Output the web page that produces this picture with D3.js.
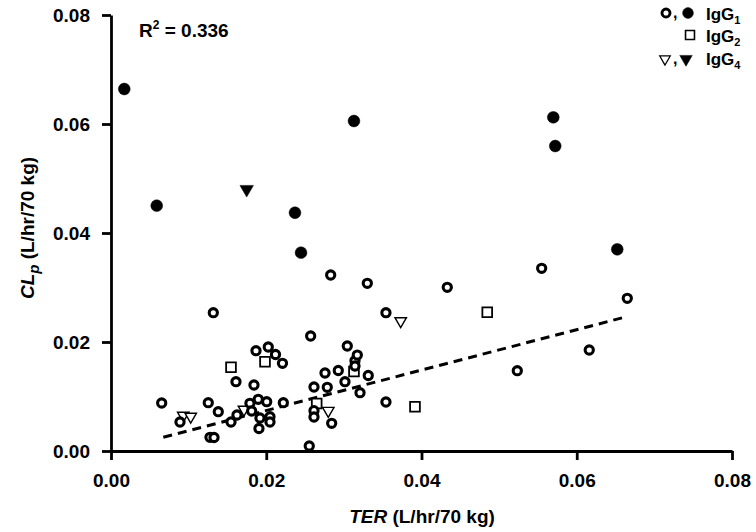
<!DOCTYPE html>
<html><head><meta charset="utf-8">
<script src="https://cdn.jsdelivr.net/npm/d3@7"></script>
<style>
html,body{margin:0;padding:0;background:#fff;}
text{font-family:"Liberation Sans",Arial,sans-serif;font-weight:bold;fill:#000;}
</style></head>
<body><svg id="chart" width="756" height="532"></svg>
<script>
// Data (TER, CLp) in L/hr/70 kg
const igg1Open = [
 [0.00653,0.00881],[0.00889,0.00532],[0.01253,0.00886],[0.01382,0.00721],[0.01275,0.00251],
 [0.01327,0.00248],[0.01318,0.02538],[0.01546,0.00532],[0.0161,0.01272],[0.01623,0.00661],
 [0.0179,0.00875],[0.01812,0.00734],[0.01842,0.01211],[0.01868,0.0184],[0.01897,0.00949],
 [0.01906,0.00413],[0.01919,0.00606],[0.02006,0.00905],[0.02026,0.01908],[0.02048,0.00629],
 [0.02048,0.00532],[0.02119,0.01771],[0.02209,0.01609],[0.0222,0.00886],[0.02554,0.00092],
 [0.02572,0.0211],[0.02615,0.01174],[0.02615,0.0074],[0.02615,0.00624],[0.02757,0.01431],
 [0.02786,0.01169],[0.02843,0.00508],[0.0283,0.03229],[0.02928,0.01477],[0.03014,0.01272],
 [0.03044,0.01927],[0.03143,0.01657],[0.03173,0.01761],[0.03143,0.0156],[0.03208,0.0107],
 [0.03302,0.03077],[0.03314,0.01385],[0.03542,0.02538],[0.03542,0.00899],[0.04332,0.03004],
 [0.05234,0.01473],[0.05548,0.03352],[0.06161,0.01853],[0.06651,0.02802]
];
const igg1Filled = [
 [0.00171,0.06642],[0.00589,0.04501],[0.0237,0.04372],[0.02448,0.03639],
 [0.0313,0.06055],[0.05698,0.06123],[0.05723,0.05596],[0.06522,0.03701]
];
const igg2Open = [
 [0.01546,0.01536],[0.01984,0.01639],[0.0265,0.00872],[0.0313,0.01459],[0.03916,0.00813],[0.04847,0.02545]
];
const igg4Open = [
 [0.00931,0.00651],[0.01027,0.00633],[0.01713,0.00761],[0.02799,0.0074],[0.03732,0.02385]
];
const igg4Filled = [[0.01748,0.04802]];
const fitLine = [[0.00674,0.00251],[0.0663,0.0246]];
const ticks = [0,0.02,0.04,0.06,0.08];
const r2Label = "R";
const r2Value = " = 0.336";

const svg = d3.select("#chart");
const x = d3.scaleLinear().domain([0,0.08]).range([111,732]);
const y = d3.scaleLinear().domain([0,0.08]).range([451,15]);

// axes
const xAxis = d3.axisBottom(x).tickValues(ticks).tickFormat(d3.format(".2f")).tickSize(9).tickSizeOuter(0).tickPadding(14);
const yAxis = d3.axisLeft(y).tickValues(ticks).tickFormat(d3.format(".2f")).tickSize(9).tickSizeOuter(0).tickPadding(12);
const gx = svg.append("g").attr("transform","translate(0,451)").call(xAxis);
const gy = svg.append("g").attr("transform","translate(111,0)").call(yAxis);
[gx,gy].forEach(g=>{
  g.selectAll("path.domain").attr("stroke","#000").attr("stroke-width",2.8);
  g.selectAll(".tick line").attr("stroke","#000").attr("stroke-width",2.8);
  g.selectAll(".tick text").style("font-family","'Liberation Sans',Arial,sans-serif").style("font-weight","bold").style("font-size","19px").attr("fill","#000");
});

// axis titles
const xt = svg.append("text").attr("x",422).attr("y",523).attr("text-anchor","middle").style("font-size","19px");
xt.append("tspan").style("font-style","italic").text("TER");
xt.append("tspan").text(" (L/hr/70 kg)");
const yt = svg.append("text").attr("transform","translate(34,228) rotate(-90)").attr("text-anchor","middle").style("font-size","19px");
yt.append("tspan").style("font-style","italic").text("CL");
yt.append("tspan").style("font-style","italic").attr("dy",5).style("font-size","15px").text("p");
yt.append("tspan").attr("dy",-5).text(" (L/hr/70 kg)");

// R2
const rt = svg.append("text").attr("x",139).attr("y",37).style("font-size","19px");
rt.append("tspan").text(r2Label);
rt.append("tspan").attr("dy",-8).style("font-size","12px").text("2");
rt.append("tspan").attr("dy",8).text(r2Value);

// regression line
svg.append("path").datum(fitLine)
  .attr("d", d3.line().x(d=>x(d[0])).y(d=>y(d[1])))
  .attr("stroke","#000").attr("stroke-width",3).attr("stroke-dasharray","9,6").attr("fill","none");

const tri = (side)=> side*side*Math.sqrt(3)/4;
function drawPts(data, type, size, filled, sw){
  svg.append("g").selectAll("path").data(data).join("path")
    .attr("transform", d=>`translate(${x(d[0])},${y(d[1])})` + (type===d3.symbolTriangle?" rotate(180)":""))
    .attr("d", d3.symbol().type(type).size(size))
    .attr("fill", filled?"#000":"#fff")
    .attr("stroke","#000").attr("stroke-width", sw);
}
drawPts(igg2Open, d3.symbolSquare, 95, false, 1.8);
drawPts(igg4Open, d3.symbolTriangle, tri(11.5), false, 1.4);
drawPts(igg1Open, d3.symbolCircle, Math.PI*4.1*4.1, false, 3.1);
drawPts(igg1Filled, d3.symbolCircle, Math.PI*5.9*5.9, true, 0.5);
drawPts(igg4Filled, d3.symbolTriangle, tri(13.5), true, 0.5);

// legend
const lg = svg.append("g");
function sym(px,py,type,size,filled,sw){
  lg.append("path").attr("transform",`translate(${px},${py})`+(type===d3.symbolTriangle?" rotate(180)":""))
    .attr("d", d3.symbol().type(type).size(size)).attr("fill",filled?"#000":"#fff").attr("stroke","#000").attr("stroke-width",sw);
}
function comma(px,py){ lg.append("text").attr("x",px).attr("y",py).style("font-size","16px").text(","); }
function label(px,py,sub){
  const t = lg.append("text").attr("x",px).attr("y",py).style("font-size","17px");
  t.append("tspan").text("IgG");
  t.append("tspan").attr("dy",4).style("font-size","11px").text(sub);
}
const legendNames = ["1","2","4"];
sym(666,13,d3.symbolCircle,Math.PI*16,false,2.9); comma(673,18); sym(688,13,d3.symbolCircle,Math.PI*5.4*5.4,true,0.5);
label(706,20,legendNames[0]);
sym(690,35,d3.symbolSquare,80,false,1.6);
label(706,42,legendNames[1]);
sym(665,59,d3.symbolTriangle,tri(10.5),false,1.3); comma(673,64); sym(686,59,d3.symbolTriangle,tri(12.5),true,0.5);
label(706,65,legendNames[2]);
</script></body></html>
